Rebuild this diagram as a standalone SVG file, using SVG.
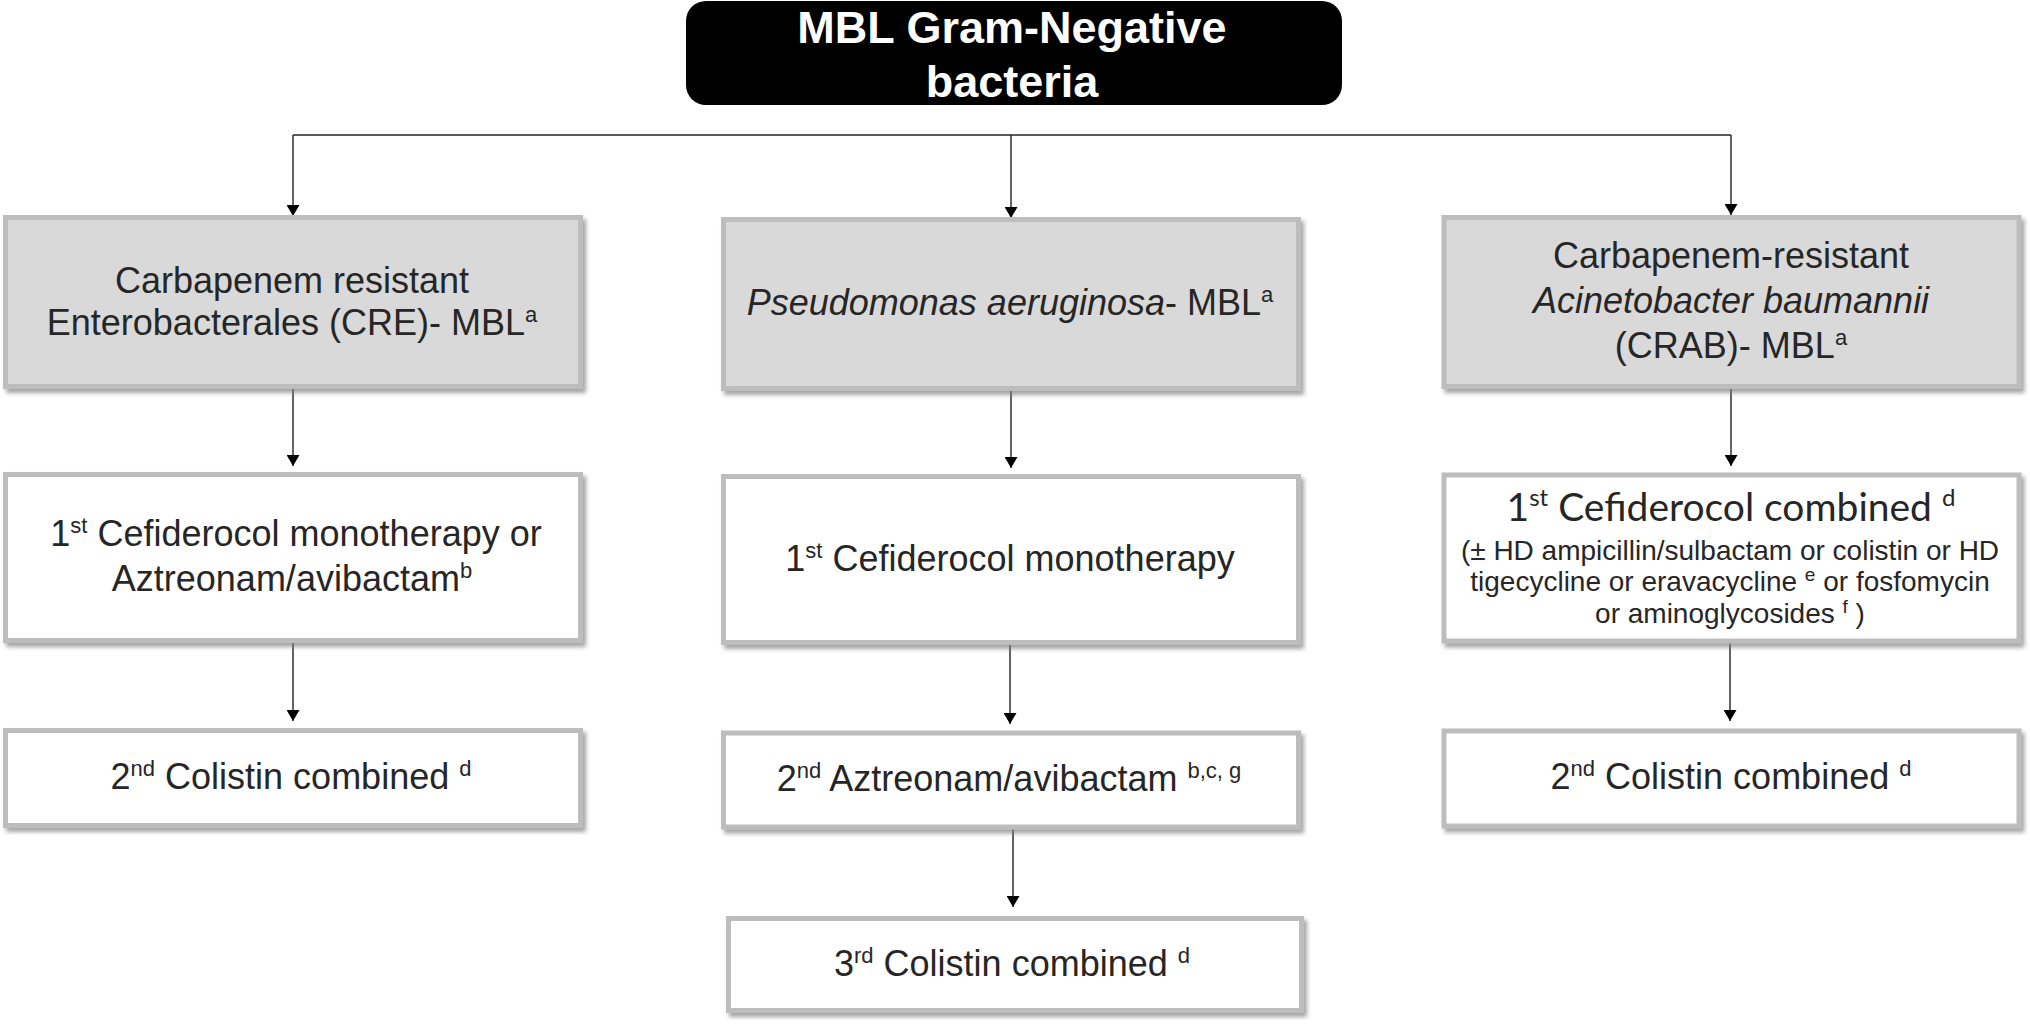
<svg xmlns="http://www.w3.org/2000/svg" width="2030" height="1026" viewBox="0 0 2030 1026">
<style>
.box{stroke:#bdbdbd;stroke-width:5;filter:url(#sh)}
.gray{fill:#d9d9d9}
.white{fill:#ffffff}
.t{font-family:"Liberation Sans",Arial,sans-serif;font-size:36px;fill:#262626;text-anchor:middle}
.s{font-size:22px}
.c{font-family:Lato,"Open Sans",sans-serif;font-size:39px;fill:#262626;text-anchor:middle}
.sm{font-family:"Liberation Sans",Arial,sans-serif;font-size:28px;fill:#262626;text-anchor:middle}
.title{font-family:"Liberation Sans",Arial,sans-serif;font-size:45px;font-weight:bold;fill:#ffffff;text-anchor:middle}
.con{fill:none;stroke:#222;stroke-width:1.4;marker-end:url(#arr)}
</style>
<defs>
<filter id="sh" x="-5%" y="-5%" width="110%" height="115%">
<feDropShadow dx="3" dy="4" stdDeviation="2" flood-color="#7f7f7f" flood-opacity="0.7"/>
</filter>
<marker id="arr" markerUnits="userSpaceOnUse" markerWidth="12" markerHeight="13" refX="11" refY="6.5" orient="auto">
<path d="M0,0 L11,6.5 L0,13 Z" fill="#000"/>
</marker>
</defs>
<rect width="2030" height="1026" fill="#ffffff"/>

<g id="connectors">
<path class="con" d="M293,135 H1731"  style="marker-end:none"/>
<path class="con" d="M293,135 V216"/>
<path class="con" d="M1011,135 V218"/>
<path class="con" d="M1731,135 V215"/>
<path class="con" d="M293,387 V466"/>
<path class="con" d="M1011,389 V468"/>
<path class="con" d="M1731,387 V466"/>
<path class="con" d="M293,641 V721"/>
<path class="con" d="M1010,643 V724"/>
<path class="con" d="M1730,641 V721"/>
<path class="con" d="M1013,828 V907"/>
</g>

<g id="title">
<rect x="686" y="1" width="656" height="104" rx="20" fill="#000"/>
<text class="title" x="1012" y="43">MBL Gram-Negative</text>
<text class="title" x="1012" y="97">bacteria</text>
</g>

<g id="cre">
<rect class="box gray" x="5.5" y="217.5" width="575" height="169"/>
<text class="t" x="292" y="293">Carbapenem resistant</text>
<text class="t" x="292" y="335">Enterobacterales (CRE)- MBL<tspan class="s" dy="-13">a</tspan></text>
</g>

<g id="pa">
<rect class="box gray" x="723.5" y="219.5" width="575" height="169"/>
<text class="t" x="1010" y="315"><tspan font-style="italic">Pseudomonas aeruginosa</tspan>- MBL<tspan class="s" dy="-13">a</tspan></text>
</g>

<g id="crab">
<rect class="box gray" x="1444" y="217.5" width="575" height="169"/>
<text class="t" x="1731" y="268">Carbapenem-resistant</text>
<text class="t" x="1731" y="313" font-style="italic">Acinetobacter baumannii</text>
<text class="t" x="1731" y="358">(CRAB)- MBL<tspan class="s" dy="-13">a</tspan></text>
</g>

<g id="cre1">
<rect class="box white" x="5.5" y="474.5" width="575" height="166"/>
<text class="t" x="296" y="546">1<tspan class="s" dy="-13">st</tspan><tspan dy="13"> Cefiderocol monotherapy or</tspan></text>
<text class="t" x="292" y="591">Aztreonam/avibactam<tspan class="s" dy="-13">b</tspan></text>
</g>

<g id="pa1">
<rect class="box white" x="723.5" y="476.5" width="575" height="166"/>
<text class="t" x="1010" y="571">1<tspan class="s" dy="-13">st</tspan><tspan dy="13"> Cefiderocol monotherapy</tspan></text>
</g>

<g id="crab1">
<rect class="box white" x="1444" y="475" width="575" height="166"/>
<text class="c" x="1731" y="521">1<tspan font-size="24" dy="-15">st</tspan><tspan dy="15"> Cefiderocol combined </tspan><tspan font-size="24" dy="-15">d</tspan></text>
<text class="sm" x="1730" y="560">(± HD ampicillin/sulbactam or colistin or HD</text>
<text class="sm" x="1730" y="591">tigecycline or eravacycline <tspan font-size="19" dy="-10">e</tspan><tspan dy="10"> or fosfomycin</tspan></text>
<text class="sm" x="1730" y="623">or aminoglycosides <tspan font-size="19" dy="-10">f</tspan><tspan dy="10"> )</tspan></text>
</g>

<g id="cre2">
<rect class="box white" x="5.5" y="730.5" width="575" height="95"/>
<text class="t" x="291" y="789">2<tspan class="s" dy="-13">nd</tspan><tspan dy="13"> Colistin combined </tspan><tspan class="s" dy="-13">d</tspan></text>
</g>

<g id="pa2">
<rect class="box white" x="723.5" y="733" width="575" height="94"/>
<text class="t" x="1009" y="791">2<tspan class="s" dy="-13">nd</tspan><tspan dy="13"> Aztreonam/avibactam </tspan><tspan class="s" dy="-13">b,c, g</tspan></text>
</g>

<g id="crab2">
<rect class="box white" x="1444" y="731" width="575" height="95"/>
<text class="t" x="1731" y="789">2<tspan class="s" dy="-13">nd</tspan><tspan dy="13"> Colistin combined </tspan><tspan class="s" dy="-13">d</tspan></text>
</g>

<g id="pa3">
<rect class="box white" x="728.5" y="918.5" width="573" height="92"/>
<text class="t" x="1012" y="976">3<tspan class="s" dy="-13">rd</tspan><tspan dy="13"> Colistin combined </tspan><tspan class="s" dy="-13">d</tspan></text>
</g>
</svg>
